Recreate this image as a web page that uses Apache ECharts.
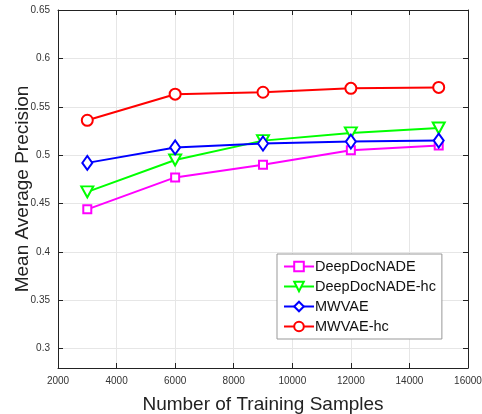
<!DOCTYPE html>
<html>
<head>
<meta charset="utf-8">
<script src="https://cdn.jsdelivr.net/npm/echarts@6/dist/echarts.min.js"></script>
<style>
  html, body { margin: 0; padding: 0; background: #fff; }
  #chart { width: 482px; height: 414px; }
</style>
</head>
<body>
<div id="chart"></div>
<script>
// training set sizes
var samples = [3000, 6000, 9000, 12000, 15000]
var deepDocNade = [0.444, 0.477, 0.490, 0.505, 0.510]
var deepDocNadeHc = [0.462, 0.495, 0.515, 0.523, 0.528]
var mwvae = [0.492, 0.508, 0.512, 0.514, 0.515]
var mwvaeHc = [0.536, 0.563, 0.565, 0.569, 0.570]
var yTicks = [0.3, 0.35, 0.4, 0.45, 0.5, 0.55, 0.6, 0.65]

var font = 'Liberation Sans, Arial, sans-serif'
var myChart = echarts.init(document.getElementById('chart'))

function pairs(vals) {
  return samples.map(function (s, i) { return [s, vals[i]] })
}

function line(name, vals, color, symbol, rotate, size) {
  return {
    name: name,
    type: 'line',
    data: pairs(vals),
    symbol: symbol,
    symbolSize: size,
    symbolRotate: rotate,
    showAllSymbol: true,
    lineStyle: { width: 2, color: color },
    itemStyle: { color: color, borderColor: color, borderWidth: 1.8 }
  }
}

var axisLine = { show: true, onZero: false, lineStyle: { color: '#222', width: 1 } }
var tick = { show: true, inside: true, length: 5, lineStyle: { color: '#222' } }
var grid = { show: true, lineStyle: { color: '#e6e6e6', width: 1 } }

var option = {
  backgroundColor: '#fff',
  animation: false,
  grid: { left: 58, right: 14, top: 10, bottom: 46, outerBoundsMode: 'none' },
  legend: {
    left: 277,
    top: 254,
    orient: 'vertical',
    itemWidth: 30,
    itemHeight: 12,
    itemGap: 5,
    padding: [5, 6, 5, 6],
    backgroundColor: '#fff',
    borderColor: '#999',
    borderWidth: 1,
    borderRadius: 0,
    textStyle: { fontFamily: font, fontSize: 14.5, color: '#111', padding: [0, 0, 0, -4] },
    data: ['DeepDocNADE', 'DeepDocNADE-hc', 'MWVAE', 'MWVAE-hc']
  },
  xAxis: [{
    type: 'value',
    min: 2000,
    max: 16000,
    interval: 2000,
    name: 'Number of Training Samples',
    nameLocation: 'middle',
    nameGap: 27,
    nameMoveOverlap: false,
    nameTextStyle: { fontFamily: font, fontSize: 19, color: '#222' },
    axisLine: axisLine,
    axisTick: tick,
    axisLabel: { fontFamily: font, fontSize: 10, color: '#333', margin: 8, formatter: function (v) { return String(v) } },
    splitLine: grid
  }, {
    type: 'value',
    position: 'top',
    min: 2000,
    max: 16000,
    interval: 2000,
    axisLine: axisLine,
    axisTick: tick,
    axisLabel: { show: false },
    splitLine: { show: false }
  }],
  yAxis: [{
    type: 'value',
    min: 0.28,
    max: 0.65,
    name: 'Mean Average Precision',
    nameLocation: 'middle',
    nameGap: 26,
    nameMoveOverlap: false,
    nameTextStyle: { fontFamily: font, fontSize: 19, color: '#222' },
    axisLine: axisLine,
    axisTick: Object.assign({ customValues: yTicks }, tick),
    axisLabel: { customValues: yTicks, fontFamily: font, fontSize: 10, color: '#333', margin: 8 },
    splitLine: Object.assign({ customValues: yTicks }, grid)
  }, {
    type: 'value',
    position: 'right',
    min: 0.28,
    max: 0.65,
    axisLine: axisLine,
    axisTick: Object.assign({ customValues: yTicks }, tick),
    axisLabel: { show: false },
    splitLine: { show: false }
  }],
  series: [
    line('DeepDocNADE', deepDocNade, '#ff00ff', 'emptyRect', 0, 8),
    line('DeepDocNADE-hc', deepDocNadeHc, '#00ff00', 'emptyTriangle', 180, [12, 11]),
    line('MWVAE', mwvae, '#0000ff', 'emptyDiamond', 0, [10, 14]),
    line('MWVAE-hc', mwvaeHc, '#ff0000', 'emptyCircle', 0, 11)
  ]
}
myChart.setOption(option)
</script>
</body>
</html>
